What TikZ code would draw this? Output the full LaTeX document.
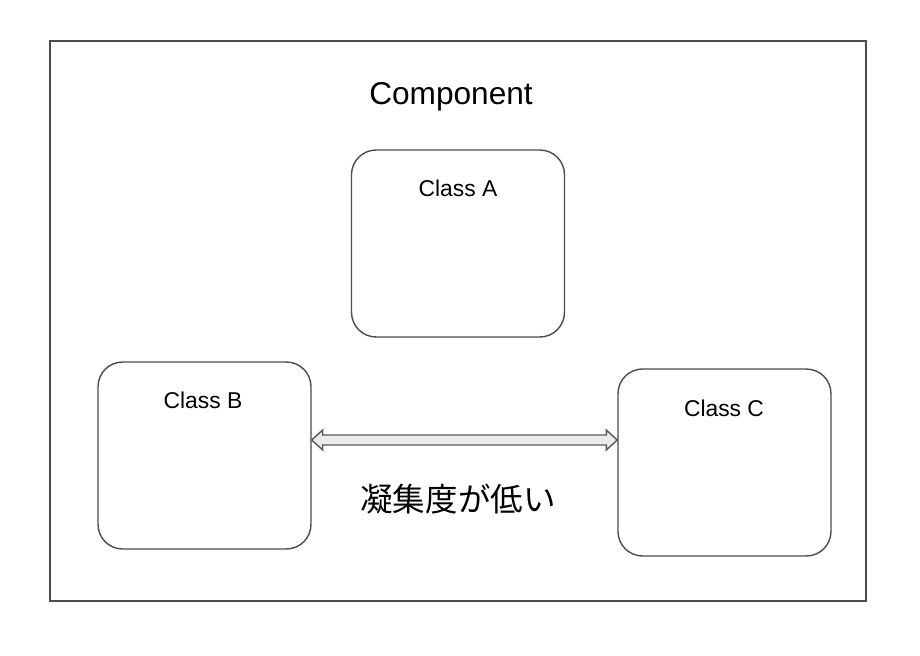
\documentclass[tikz,border=0pt]{standalone}
\usepackage{fontspec}
\setmainfont{Liberation Sans}
\newfontfamily\cjk{Noto Sans CJK JP}
\usetikzlibrary{calc}

\tikzset{
    cls/.style={draw=black!70, line width=0.8pt, rounded corners=14pt, minimum width=4.26cm, minimum height=3.74cm},
    lbl/.style={font=\fontsize{13}{15}\selectfont},
    link/.style={draw=black!65, fill=black!8, line width=0.8pt}
}

\begin{document}
\begin{tikzpicture}[x=0.02cm, y=-0.02cm]
    \useasboundingbox (0,0) rectangle (920,656);
    \draw[black!70, line width=0.8pt] (50,41) rectangle (866,601);

    \node[font=\fontsize{18}{21}\selectfont] (comp) at (451,97) {Component};

    \node[cls] (A) at (458,243.5) {};
    \node[cls] (B) at (204.5,455.5) {};
    \node[cls] (C) at (724.5,462.5) {};

    \node[lbl] at (458,188) {Class A};
    \node[lbl] at (203,400) {Class B};
    \node[lbl] at (724,408) {Class C};

    % link B <-> C
    \coordinate (l) at ($(B.east)+(0,-15.5)$);
    \coordinate (r) at ($(C.west)+(0,-22.5)$);
    \draw[link] (l) -- ++(11,-10) -- ++(0,5) -- ($(r)+(-11,-5)$) -- ++(0,-5)
        -- (r) -- ++(-11,10) -- ++(0,-5) -- ($(l)+(11,5)$) -- ++(0,5) -- cycle;

    \node[font=\cjk\fontsize{18.5}{21}\selectfont] (low) at (458,499) {凝集度が低い};
\end{tikzpicture}
\end{document}
